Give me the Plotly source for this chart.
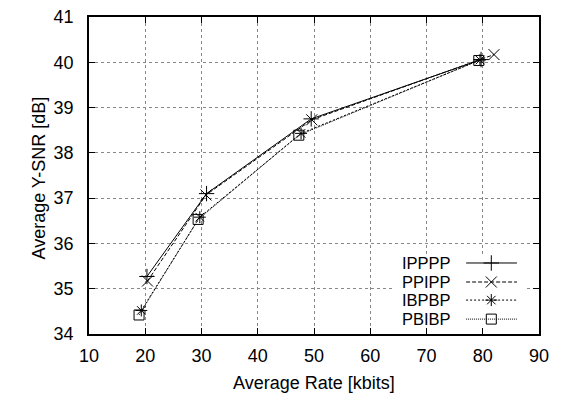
import plotly.graph_objects as go

series_names = ["IPPPP", "PPIPP", "IBPBP", "PBIBP"]
rate_ipppp = [20.3, 30.9, 49.5, 79.7]
snr_ipppp = [35.27, 37.10, 38.75, 40.06]
rate_ppipp = [20.4, 30.8, 49.6, 82.0]
snr_ppipp = [35.17, 37.07, 38.73, 40.17]
rate_ibpbp = [19.3, 29.7, 47.7, 79.5]
snr_ibpbp = [34.52, 36.58, 38.43, 40.05]
rate_pbibp = [18.9, 29.4, 47.3, 79.3]
snr_pbibp = [34.42, 36.53, 38.39, 40.04]

x_ticks = [10, 20, 30, 40, 50, 60, 70, 80, 90]
y_ticks = [34, 35, 36, 37, 38, 39, 40, 41]
x_title = "Average Rate [kbits]"
y_title = "Average Y-SNR [dB]"

rates = [rate_ipppp, rate_ppipp, rate_ibpbp, rate_pbibp]
snrs = [snr_ipppp, snr_ppipp, snr_ibpbp, snr_pbibp]
dashes = ["solid", "4px,2px", "2px,2px", "1px,1px"]
symbols = ["cross-thin-open", "x-thin-open", "asterisk-open", "square-open"]
sizes = [11, 11, 10, 10]

FONT = "Liberation Sans, Arial, sans-serif"
fig = go.Figure()

for name, xs, ys, d, s, sz in zip(series_names, rates, snrs, dashes, symbols, sizes):
    fig.add_trace(go.Scatter(
        x=xs, y=ys, name=name, mode="lines+markers",
        line=dict(color="black", width=1, dash=d),
        marker=dict(symbol=s, size=sz, color="black", line=dict(color="black", width=1)),
        showlegend=False,
    ))

# white background of the key (covers grid lines), on auxiliary axes
fig.add_trace(go.Scatter(
    x=[0.676, 0.973, 0.973, 0.676, 0.676], y=[0.016, 0.016, 0.252, 0.252, 0.016],
    mode="lines", fill="toself", fillcolor="white", line=dict(width=0, color="white"),
    xaxis="x2", yaxis="y2", showlegend=False, hoverinfo="skip",
))

# custom key (text left of sample, gnuplot style)
leg_y = [0.224, 0.164, 0.107, 0.047]
for name, yy, d, s, sz in zip(series_names, leg_y, dashes, symbols, sizes):
    fig.add_trace(go.Scatter(
        x=[0.838, 0.951], y=[yy, yy], mode="lines",
        line=dict(color="black", width=1, dash=d),
        xaxis="x2", yaxis="y2", showlegend=False, hoverinfo="skip",
    ))
    fig.add_trace(go.Scatter(
        x=[0.894], y=[yy], mode="markers",
        marker=dict(symbol=s, size=sz, color="black", line=dict(color="black", width=1)),
        xaxis="x2", yaxis="y2", showlegend=False, hoverinfo="skip",
    ))
    fig.add_annotation(x=0.809, y=yy, xref="x2", yref="y2", text=name, showarrow=False,
                       xanchor="right", yanchor="middle", font=dict(family=FONT, size=16.5, color="black"))

# axis titles
fig.add_annotation(x=0.5, y=-0.1546, xref="paper", yref="paper", text=x_title, showarrow=False,
                   xanchor="center", yanchor="middle", font=dict(family=FONT, size=18, color="black"))
fig.add_annotation(x=-0.1133, y=0.4905, xref="paper", yref="paper", text=y_title, showarrow=False,
                   textangle=-90, xanchor="center", yanchor="middle",
                   font=dict(family=FONT, size=18, color="black"))

axis_common = dict(
    showline=True, linecolor="black", linewidth=1.5, mirror="ticks",
    ticks="inside", ticklen=6, tickcolor="black", tickwidth=1,
    showgrid=True, gridcolor="#888888", griddash="dot", gridwidth=1,
    zeroline=False, tickfont=dict(family=FONT, size=18, color="black"),
    automargin=False,
)
fig.update_layout(
    width=563, height=396,
    margin=dict(l=89, r=24, t=17, b=62),
    paper_bgcolor="white", plot_bgcolor="white",
    xaxis=dict(range=[10, 90], tickvals=x_ticks, ticklabelstandoff=5, **axis_common),
    yaxis=dict(range=[34, 41], tickvals=y_ticks, ticklabelstandoff=10, **axis_common),
    xaxis2=dict(range=[0, 1], overlaying="x", visible=False, fixedrange=True),
    yaxis2=dict(range=[0, 1], overlaying="y", visible=False, fixedrange=True),
    showlegend=False,
)

fig.write_html("out.html")
